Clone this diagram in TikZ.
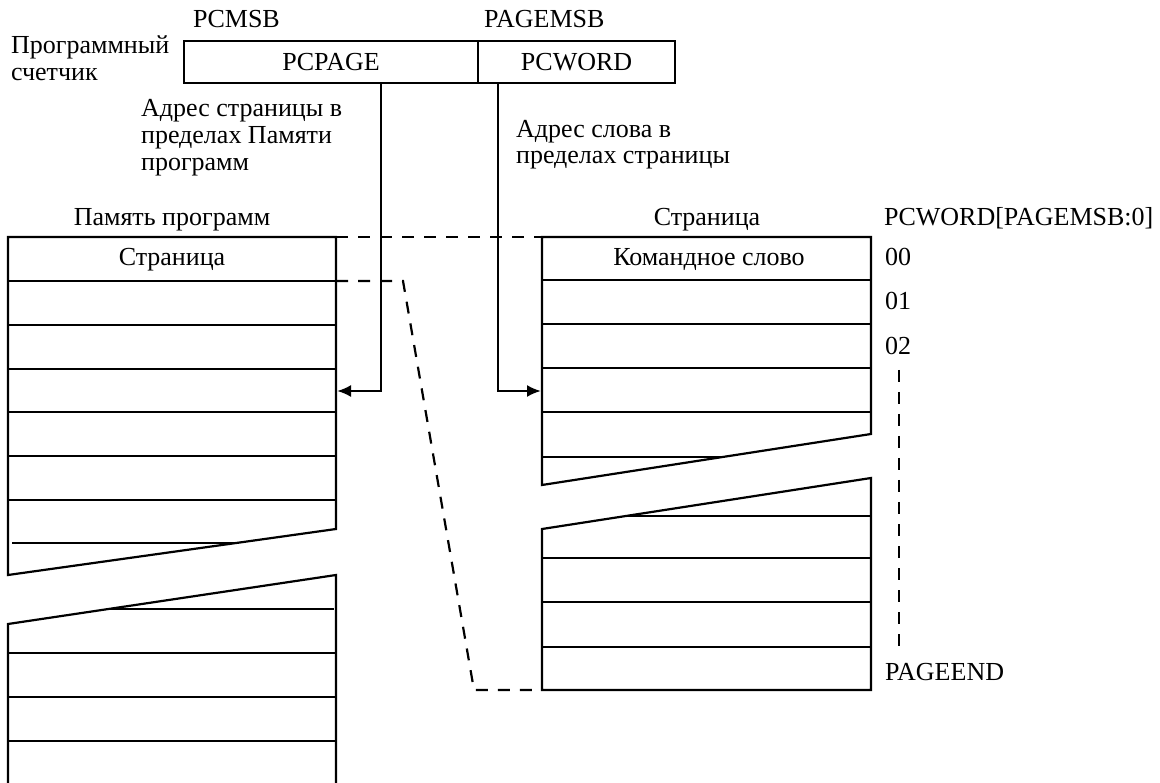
\documentclass[tikz,border=0pt]{standalone}
\usepackage{fontspec}
\setmainfont{Liberation Serif}
\usetikzlibrary{arrows.meta}
\begin{document}
\begin{tikzpicture}[x=1pt,y=-1pt, line width=2.2pt, line join=miter,
  lbl/.style={inner sep=0pt, font=\fontsize{26}{27}\selectfont, anchor=base},
  lblw/.style={lbl, anchor=base west},
  dsh/.style={dash pattern=on 12pt off 10pt},
  arr/.style={-{Latex[length=14pt,width=12pt]}},
  regbox/.style={draw, inner sep=0pt, anchor=north west, minimum height=42pt, font=\fontsize{26}{27}\selectfont}]
\useasboundingbox (0,0) rectangle (1160,783);

% ---- program counter ----
\node[regbox, minimum width=294pt] (pcpage) at (183,40) {PCPAGE};
\node[regbox, minimum width=197pt] (pcword) at (477,40) {PCWORD};
\node[lblw] (pcmsb) at (192,28) {PCMSB};
\node[lblw] (pagemsb) at (483,28) {PAGEMSB};
\node[lblw] (cnt1) at (10,54) {Программный};
\node[lblw] (cnt2) at (10,81) {счетчик};

\node[lblw] (pa1) at (140,117) {Адрес страницы в};
\node[lblw] (pa2) at (140,144) {пределах Памяти};
\node[lblw] (pa3) at (140,171) {программ};
\node[lblw] (wa1) at (515,138) {Адрес слова в};
\node[lblw] (wa2) at (515,164) {пределах страницы};

% ---- headers ----
\node[lbl] (memhdr) at (172,226) {Память программ};
\node[lbl] (pghdr) at (707,226) {Страница};
\node[lblw] (idxhdr) at (883,226) {PCWORD[PAGEMSB:0]};

% ---- program memory (left column) ----
\draw (336,529) -- (336,237) -- (8,237) -- (8,575) -- cycle;
\foreach \y in {281,325,369,412,456,500} \draw (8,\y) -- (336,\y);
\draw (12,543) -- (236,543);
\draw (8,790) -- (8,624) -- (336,575) -- (336,790);
\draw (108,609) -- (334,609);
\foreach \y in {653,697,741} \draw (8,\y) -- (336,\y);
\node[lbl] (pagecell) at (172,266) {Страница};

% ---- page (right column) ----
\draw (871,434) -- (871,237) -- (542,237) -- (542,485) -- cycle;
\foreach \y in {280,324,368,412} \draw (542,\y) -- (871,\y);
\draw (542,457) -- (723,457);
\draw (542,529) -- (871,478) -- (871,690) -- (542,690) -- cycle;
\draw (626,516) -- (871,516);
\foreach \y in {558,602,647} \draw (542,\y) -- (871,\y);
\node[lbl] (cmdword) at (709,266) {Командное слово};

% ---- word indices ----
\node[lblw] (i00) at (884,266) {00};
\node[lblw] (i01) at (884,310) {01};
\node[lblw] (i02) at (884,355) {02};
\node[lblw] (iend) at (884,680) {PAGEEND};
\coordinate (vd1) at (899,370);
\coordinate (vd2) at (899,648);
\draw[dsh] (vd1) -- (vd2);

% ---- dashed projection of a page ----
\coordinate (m1) at (336,237);
\coordinate (p1) at (542,237);
\coordinate (m2) at (336,281);
\coordinate (k1) at (403,281);
\coordinate (k2) at (474,690);
\coordinate (p2) at (542,690);
\draw[dsh] (m1) -- (p1);
\draw[dsh] (m2) -- (k1) -- (k2) -- (p2);

% ---- address arrows ----
\coordinate (memhit) at (337,391);
\coordinate (pagehit) at (541,391);
\draw[arr] ([xshift=198pt]pcpage.south west) |- (memhit);
\draw[arr] ([xshift=21pt]pcword.south west) |- (pagehit);
\end{tikzpicture}
\end{document}
